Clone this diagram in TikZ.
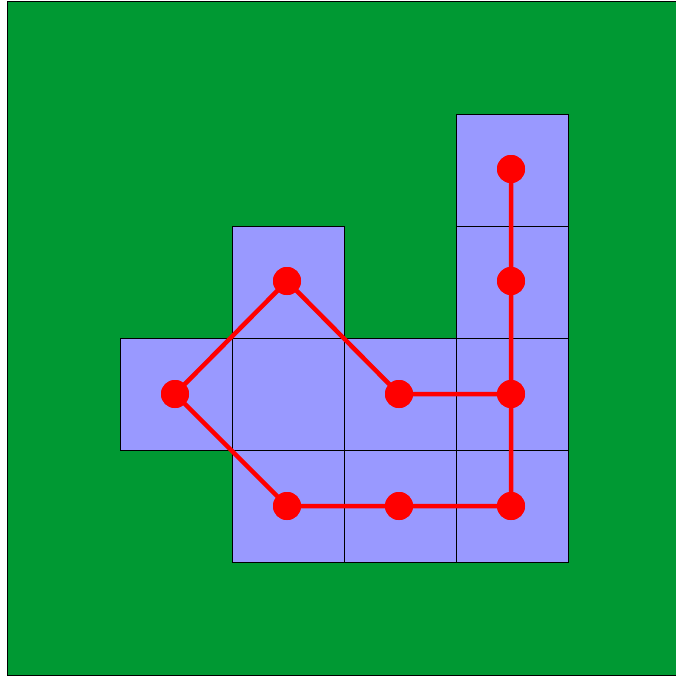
\documentclass[tikz,border=0pt]{standalone}
\definecolor{bggreen}{RGB}{0,153,51}
\definecolor{lav}{RGB}{153,153,255}
\tikzset{
  cell/.style={fill=lav,draw=black,line width=0.8pt},
  dot/.style={circle,fill=red,inner sep=0pt,minimum size=28pt},
  link/.style={draw=red,line width=4.5pt}
}
\begin{document}
\begin{tikzpicture}[x=1pt,y=-1pt]
\useasboundingbox (0,0) rectangle (675,677);
\fill[bggreen,draw=black,line width=0.8pt] (7,1) rectangle (680,675);
% cells
\foreach \x/\y in {456/114,456/226,232/226,120/338,232/338,344/338,456/338,232/450,344/450,456/450}
  \draw[cell] (\x,\y) rectangle ++(112,112);
% dots
\node[dot] (a) at (511,169) {};
\node[dot] (b) at (511,281) {};
\node[dot] (c) at (511,394) {};
\node[dot] (d) at (511,506) {};
\node[dot] (e) at (399,506) {};
\node[dot] (f) at (287,506) {};
\node[dot] (g) at (175,394) {};
\node[dot] (h) at (287,281) {};
\node[dot] (i) at (399,394) {};
\draw[link] (a.center) -- (b.center) -- (c.center) -- (d.center) -- (e.center) -- (f.center) -- (g.center) -- (h.center) -- (i.center) -- (c.center);
\foreach \n in {a,b,c,d,e,f,g,h,i} \node[dot] at (\n) {};
\end{tikzpicture}
\end{document}
